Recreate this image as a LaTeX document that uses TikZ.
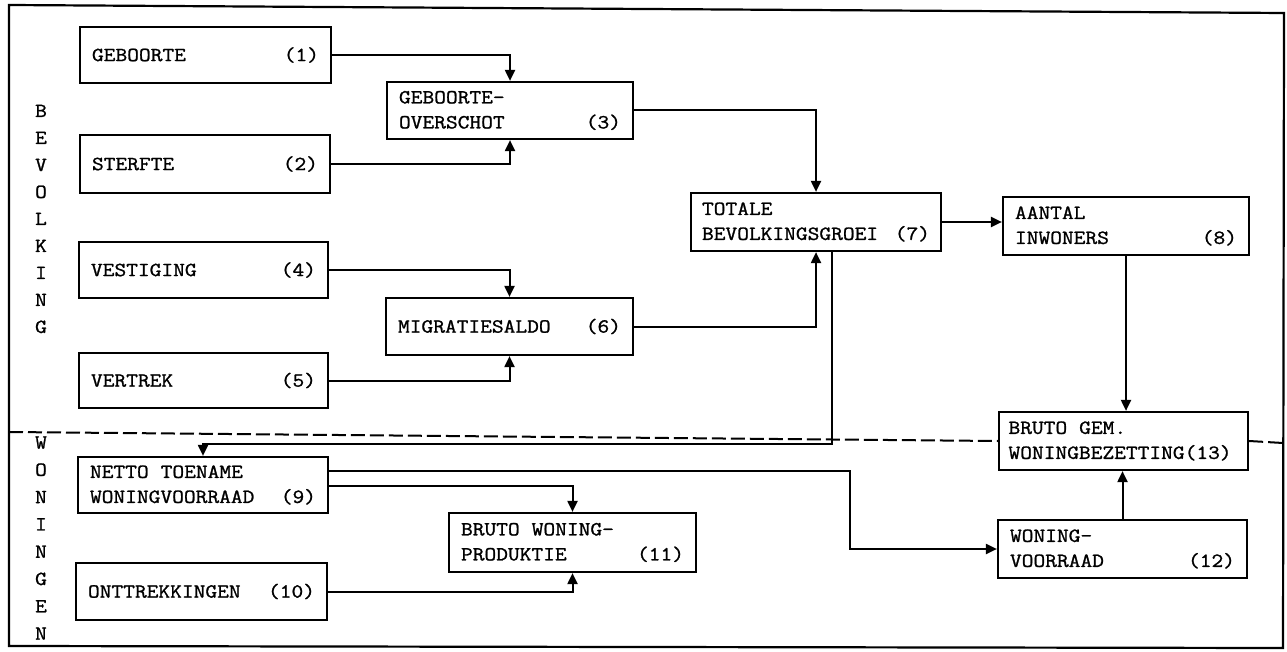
\documentclass[tikz,border=0pt]{standalone}
\usepackage{fontspec}
\newfontfamily\tw{Latin Modern Mono}[FakeStretch=1.14, FakeBold=1.2]
\usetikzlibrary{arrows.meta,calc}
\newcommand\rnum[1]{\hskip0pt plus1filll#1}
\newcommand\ws{\hbox to 12pt{}}
\tikzset{
  x=1pt, y=-1pt,
  box/.style={draw, line width=2.2pt, inner xsep=0pt, inner ysep=0pt,
    font=\tw\fontsize{20}{25}\selectfont, align=left},
  bx/.style n args={3}{box, minimum width=#1pt, minimum height=#2pt, text width=#3pt},
  conn/.style={line width=2pt, -{Triangle[length=11pt,width=10pt]}},
  side/.style={font=\tw\fontsize{20}{#1}\selectfont, inner sep=0pt, align=center},
  sep/.style={line width=2pt, dash pattern=on 14pt off 5pt},
}
\begin{document}
\begin{tikzpicture}
\fill[white] (0,0) rectangle (1287,652);
\useasboundingbox (0,0) rectangle (1287,652);
% frame
\draw[line width=2.2pt] (9,5) -- (1284,13) -- (1283,648) -- (9,646) -- cycle;

% boxes
\node[bx={251}{56}{227}] (b1) at (205.5,55) {GEBOORTE\rnum{(1)}};
\node[bx={250}{58}{226}] (b2) at (205,164) {STERFTE\rnum{(2)}};
\node[bx={246}{57}{222}] (b3) at (510,110.5) {GEBOORTE-\\OVERSCHOT\rnum{(3)}};
\node[bx={249}{56}{225}] (b4) at (203.5,270) {VESTIGING\rnum{(4)}};
\node[bx={249}{55}{225}] (b5) at (203.5,380.5) {VERTREK\rnum{(5)}};
\node[bx={247}{57}{223}] (b6) at (509.5,326.5) {MIGRATIESALDO\rnum{(6)}};
\node[bx={250}{58}{228}] (b7) at (816,222) {TOTALE\\BEVOLKINGSGROEI\rnum{(7)}};
\node[bx={246}{58}{222}] (b8) at (1126,226) {AANTAL\\INWONERS\rnum{(8)}};
\node[bx={250}{56}{226}] (b9) at (203,485) {NETTO\ws TOENAME\\WONINGVOORRAAD\rnum{(9)}};
\node[bx={251}{57}{227}] (b10) at (201.5,591.5) {ONTTREKKINGEN\rnum{(10)}};
\node[bx={247}{59}{223}] (b11) at (572.5,542.5) {BRUTO\ws WONING-\\PRODUKTIE\rnum{(11)}};
\node[bx={249}{58}{225}] (b12) at (1122.5,549) {WONING-\\VOORRAAD\rnum{(12)}};
\node[bx={249}{58}{230}] (b13) at (1123.5,441) {BRUTO\ws GEM.\\WONINGBEZETTING(13)};

% side labels
\node[side=27] (lb) at (41,219) {B\\E\\V\\O\\L\\K\\I\\N\\G};
\node[side=27.3] (lw) at (41,538) {W\\O\\N\\I\\N\\G\\E\\N};

% separator
\coordinate (fl) at (9,432);
\coordinate (fr) at (1283,443);
\draw[sep] (fl) -- (b13.west);
\draw[sep] (b13.east) -- (fr);

% connectors
\draw[conn] (b1.east) -| (b3.north);
\draw[conn] (b2.east) -| (b3.south);
\draw[conn] (b4.east) -| (b6.north);
\draw[conn] (b5.east) -| (b6.south);
\draw[conn] (b3.east) -| (b7.north);
\draw[conn] (b6.east) -| (b7.south);
\draw[conn] (b7.east) -- (b7.east -| b8.west);
\draw[conn] (b8.south) -- (b8.south |- b13.north);
\draw[conn] (b12.north) -- (b12.north |- b13.south);
\coordinate (k1) at (832,444);
\draw[conn] (b7.south -| k1) -- (k1) -| (b9.north);
\coordinate (k2) at (850,471);
\draw[conn] (b9.east |- k2) -- (k2) |- (b12.west);
\coordinate (k3) at (575,486);
\draw[conn] (b9.east |- k3) -| (b11.north);
\draw[conn] (b10.east) -| (b11.south);
\end{tikzpicture}
\end{document}
